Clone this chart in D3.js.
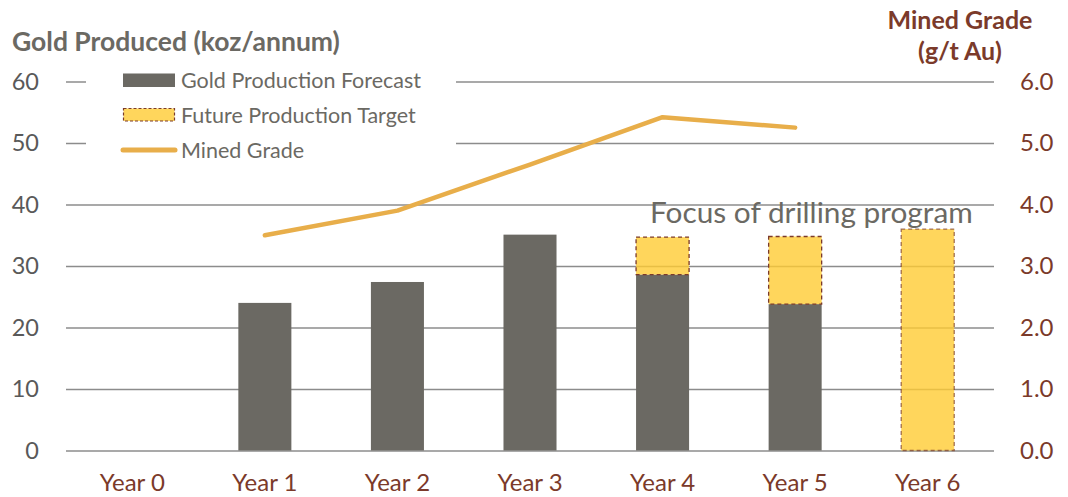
<!DOCTYPE html>
<html><head><meta charset="utf-8">
<script src="https://cdn.jsdelivr.net/npm/d3@7"></script>
<style>body{margin:0;background:#fff}svg{display:block;font-family:Lato,"Open Sans",sans-serif}</style>
</head><body>
<svg id="c" width="1068" height="497"></svg>
<script>
const categories = ["Year 0","Year 1","Year 2","Year 3","Year 4","Year 5","Year 6"];
const goldForecast = [0, 24.0, 27.4, 35.1, 28.6, 23.8, 0];
const futureTarget = [0, 0, 0, 0, 6.1, 11.0, 36.0];
const minedGrade = [null, 3.5, 3.9, 4.65, 5.42, 5.25, null];
const leftTicks = [0,10,20,30,40,50,60];
const rightTicks = [0,1,2,3,4,5,6];

const svg = d3.select("#c");
const L = 66, R = 994, T = 81.5, B = 450.5;
const x = d3.scaleBand().domain(categories).range([L, R]).paddingInner(0.6).paddingOuter(0.3);
const y = d3.scaleLinear().domain([0,60]).range([B, T]);
const y2 = d3.scaleLinear().domain([0,6]).range([B, T]);
const gray = "#6B6963", brown = "#7B3A2A", gridC = "#8C8C8C";

// gridlines
svg.append("g").attr("transform",`translate(${L},0)`)
  .call(d3.axisLeft(y).tickValues(leftTicks).tickSize(-(R-L)).tickFormat(d=>d).tickPadding(27))
  .call(g=>{g.select(".domain").remove();
    g.selectAll(".tick line").attr("stroke",gridC).attr("stroke-width",1.5);
    g.selectAll(".tick text").attr("fill","#595959").style("font-size","23.5px").attr("font-family","Lato");});

// right axis labels
svg.append("g").attr("transform",`translate(${R},0)`)
  .call(d3.axisRight(y2).tickValues(rightTicks).tickSize(0).tickPadding(26).tickFormat(d3.format(".1f")))
  .call(g=>{g.select(".domain").remove();
    g.selectAll(".tick text").attr("fill",brown).style("font-size","24px").attr("font-family","Lato");});

// x labels
svg.append("g").attr("transform",`translate(0,${B})`)
  .call(d3.axisBottom(x).tickSize(0).tickPadding(23))
  .call(g=>{g.select(".domain").remove();
    g.selectAll(".tick text").attr("fill",brown).style("font-size","24px").attr("font-family","Lato");});

// bars
svg.append("g").selectAll("rect").data(categories.filter((c,i)=>goldForecast[i]>0)).join("rect")
  .attr("x",c=>x(c)).attr("width",x.bandwidth())
  .attr("y",c=>y(goldForecast[categories.indexOf(c)]))
  .attr("height",c=>B-y(goldForecast[categories.indexOf(c)]))
  .attr("fill",gray);
svg.append("g").selectAll("rect").data(categories.filter((c,i)=>futureTarget[i]>0)).join("rect")
  .attr("x",c=>x(c)).attr("width",x.bandwidth())
  .attr("y",c=>{const i=categories.indexOf(c);return y(goldForecast[i]+futureTarget[i]);})
  .attr("height",c=>{const i=categories.indexOf(c);return y(goldForecast[i])-y(goldForecast[i]+futureTarget[i]);})
  .attr("fill","#FFCC33").attr("fill-opacity",0.8)
  .attr("stroke",brown).attr("stroke-opacity",c=>goldForecast[categories.indexOf(c)]>0?1:0.7)
  .attr("stroke-width",1.3).attr("stroke-dasharray","4,3");

// line
const line = d3.line().defined(d=>d[1]!=null).x(d=>x(d[0])+x.bandwidth()/2).y(d=>y2(d[1]));
svg.append("path").datum(categories.map((c,i)=>[c,minedGrade[i]]))
  .attr("d",line).attr("fill","none").attr("stroke","#E8AE4A").attr("stroke-width",4.5)
  .attr("stroke-linecap","round").attr("stroke-linejoin","round");

// legend (white box covers gridlines)
svg.append("rect").attr("x",86).attr("y",66).attr("width",370).attr("height",100).attr("fill","#fff");
const lg = svg.append("g");
lg.append("rect").attr("x",123).attr("y",73.5).attr("width",52).attr("height",13.5).attr("fill",gray);
lg.append("rect").attr("x",123.5).attr("y",108.5).attr("width",51).attr("height",12.5)
  .attr("fill","#FFCC33").attr("fill-opacity",0.8).attr("stroke",brown).attr("stroke-width",1.2).attr("stroke-dasharray","3,2");
lg.append("line").attr("x1",123).attr("x2",175).attr("y1",150).attr("y2",150)
  .attr("stroke","#E8AE4A").attr("stroke-width",5).attr("stroke-linecap","round");
[["Gold Production Forecast",80],["Future Production Target",115],["Mined Grade",150]].forEach(([t,yy])=>{
  lg.append("text").attr("x",181).attr("y",yy).attr("dy","0.35em").attr("fill",gray)
    .style("font-size","21.5px").text(t);
});

// titles
svg.append("text").attr("x",12).attr("y",51).attr("fill",gray).attr("font-weight","bold")
  .style("font-size","26.5px").text("Gold Produced (koz/annum)");
svg.append("text").attr("x",960).attr("y",29).attr("text-anchor","middle").attr("fill",brown)
  .attr("font-weight","bold").style("font-size","25px").text("Mined Grade");
svg.append("text").attr("x",960).attr("y",60).attr("text-anchor","middle").attr("fill",brown)
  .attr("font-weight","bold").style("font-size","25px").text("(g/t Au)");

// annotation
svg.append("text").attr("x",650).attr("y",223).attr("fill","#6B6963")
  .style("font-size","29.8px").text("Focus of drilling program");
</script>
</body></html>
